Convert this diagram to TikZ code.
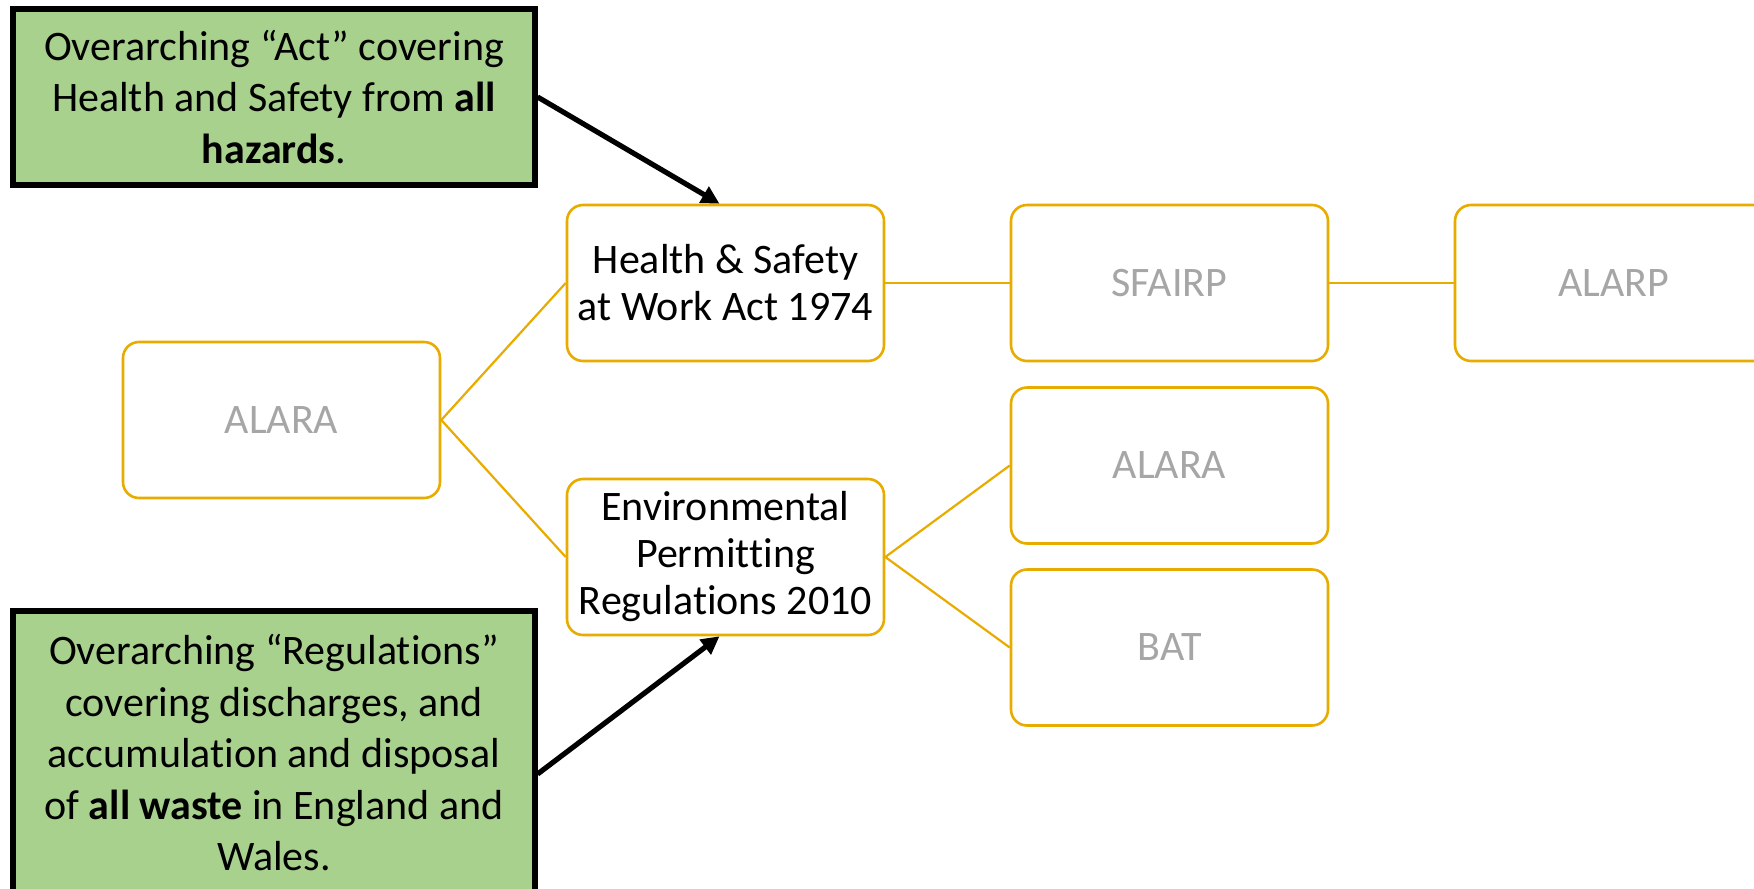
\documentclass[tikz,border=0pt]{standalone}
\usepackage{fontspec}
\setmainfont{Carlito}[Ligatures={NoCommon}]
\usetikzlibrary{arrows.meta}
\definecolor{gold}{RGB}{232,172,0}
\definecolor{greyt}{RGB}{166,166,166}
\definecolor{greenf}{RGB}{169,209,142}
\tikzset{
  box/.style={draw=gold, line width=1.3pt, rounded corners=8pt, fill=white,
    minimum width=158.5pt, minimum height=78pt, inner sep=2pt,
    align=center, font=\fontsize{21}{23.5}\selectfont},
  dim/.style={box, text=greyt},
  link/.style={draw=gold, line width=1.1pt},
  note/.style={draw=black, line width=2.6pt, fill=greenf, minimum width=261pt,
    align=center, inner sep=2pt, font=\fontsize{21}{25.75}\selectfont},
  pointer/.style={draw=black, line width=2.6pt, -{Triangle[length=9pt,width=9pt]}}
}
\begin{document}
\begin{tikzpicture}[x=0.5pt,y=-0.5pt]
\clip (0,0) rectangle (1754,888);
\fill[white] (0,0) rectangle (1754,888);
\node[dim] (alara) at (281.5,420) {ALARA};
\node[box] (hsw) at (725.5,283) {Health \& Safety\\at Work Act 1974};
\node[box] (epr) at (725.5,557) {Environmental\\Permitting\\Regulations 2010};
\node[dim] (sfairp) at (1169.5,283) {SFAIRP};
\node[dim] (alarp) at (1613.5,283) {ALARP};
\node[dim] (alara2) at (1169.5,465.5) {ALARA};
\node[dim] (bat) at (1169.5,647.5) {BAT};
\draw[link] (alara.east) -- (hsw.west);
\draw[link] (alara.east) -- (epr.west);
\draw[link] (hsw.east) -- (sfairp.west);
\draw[link] (sfairp.east) -- (alarp.west);
\draw[link] (epr.east) -- (alara2.west);
\draw[link] (epr.east) -- (bat.west);
\node[note, minimum height=88pt] (g1) at (274,97) {Overarching “Act” covering\\Health and Safety from \textbf{all}\\\textbf{hazards}.};
\node[note, minimum height=142pt] (g2) at (274,753) {Overarching “Regulations”\\covering discharges, and\\accumulation and disposal\\of \textbf{all waste} in England and\\Wales.};
\draw[pointer] ([yshift=0pt]g1.east) -- ([xshift=-3pt]hsw.north);
\draw[pointer] ([yshift=-10.5pt]g2.east) -- ([xshift=-3pt]epr.south);
\end{tikzpicture}
\end{document}
